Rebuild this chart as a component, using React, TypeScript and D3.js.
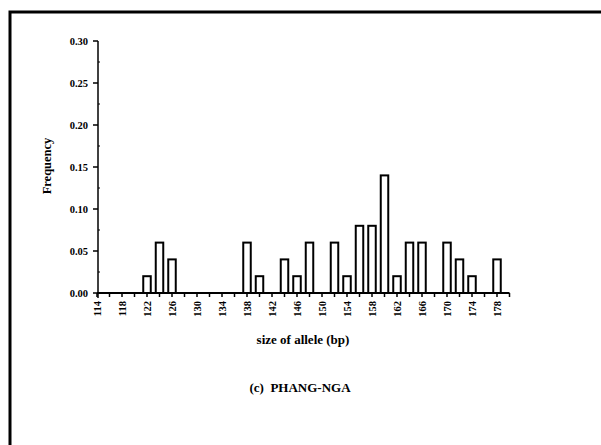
import React from 'react'
import * as d3 from 'd3'

// allele sizes (bp) and their frequencies
const alleles = [122, 124, 126, 138, 140, 144, 146, 148, 152, 154, 156, 158, 160, 162, 164, 166, 170, 172, 174, 178]
const freqs = [0.02, 0.06, 0.04, 0.06, 0.02, 0.04, 0.02, 0.06, 0.06, 0.02, 0.08, 0.08, 0.14, 0.02, 0.06, 0.06, 0.06, 0.04, 0.02, 0.04]

const xLabels = [114, 118, 122, 126, 130, 134, 138, 142, 146, 150, 154, 158, 162, 166, 170, 174, 178]
const yLabels = ['0.00', '0.05', '0.10', '0.15', '0.20', '0.25', '0.30']

const W = 601
const H = 445
const font = '"Liberation Serif", "Times New Roman", serif'

export default function App () {
  const x = d3.scaleLinear().domain([114, 180]).range([97, 509.5])
  const y = d3.scaleLinear().domain([0, 0.3]).range([293, 41])

  const minorX = d3.range(114, 181, 2)
  const minorY = d3.range(0.025, 0.3, 0.05)
  const barW = 7.5

  return (
    <div style={{ position: 'fixed', left: 0, top: 0 }}>
      <svg width={W} height={H} style={{ display: 'block', background: '#fff' }}>
        {/* frame of the scanned page */}
        <path d={`M10,${H} L10,12 L${W},12`} fill="none" stroke="#000" strokeWidth={3} />

        {/* bars */}
        <g>
          {alleles.map((a, i) => (
            <rect key={a}
              x={x(a) - barW / 2}
              y={y(freqs[i])}
              width={barW}
              height={y(0) - y(freqs[i])}
              fill="#fff"
              stroke="#000"
              strokeWidth={2} />
          ))}
        </g>

        {/* x axis */}
        <line x1={x(114)} x2={x(180)} y1={y(0)} y2={y(0)} stroke="#000" strokeWidth={2} />
        {minorX.map(t => (
          <line key={t} x1={x(t)} x2={x(t)} y1={y(0)} y2={y(0) + 4} stroke="#000" strokeWidth={1.5} />
        ))}
        {xLabels.map(t => (
          <text key={t}
            transform={`translate(${x(t) + 4},301) rotate(-90)`}
            textAnchor="end"
            fontFamily={font}
            fontWeight="bold"
            fontSize={10.5}>{t}</text>
        ))}

        {/* y axis */}
        <line x1={x(114) + 1} x2={x(114) + 1} y1={y(0) + 5} y2={y(0.3)} stroke="#000" strokeWidth={1.5} />
        {yLabels.map(l => (
          <g key={l}>
            <line x1={x(114) - 4} x2={x(114) + 1} y1={y(+l)} y2={y(+l)} stroke="#000" strokeWidth={1.5} />
            <text x={88} y={y(+l) + 4} textAnchor="end" fontFamily={font} fontWeight="bold" fontSize={10.5}>{l}</text>
          </g>
        ))}
        {minorY.map(t => (
          <line key={t} x1={x(114) + 1} x2={x(114) + 3} y1={y(t)} y2={y(t)} stroke="#000" strokeWidth={1} />
        ))}

        {/* titles */}
        <text transform="translate(51,166) rotate(-90)" textAnchor="middle" fontFamily={font} fontWeight="bold" fontSize={12.5}>Frequency</text>
        <text x={303} y={344} textAnchor="middle" fontFamily={font} fontWeight="bold" fontSize={13}>size of allele (bp)</text>
        <text x={300} y={392} textAnchor="middle" fontFamily={font} fontWeight="bold" fontSize={13}>(c)&#160;&#160;PHANG-NGA</text>
      </svg>
    </div>
  )
}
